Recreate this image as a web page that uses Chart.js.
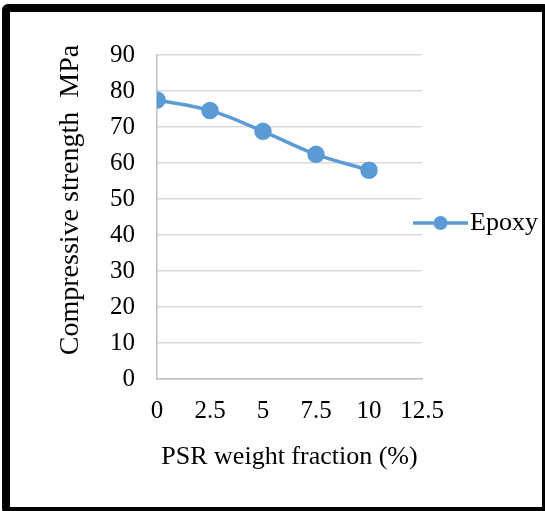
<!DOCTYPE html>
<html>
<head>
<meta charset="utf-8">
<script src="https://cdn.jsdelivr.net/npm/chart.js@4.4.0/dist/chart.umd.min.js"></script>
<style>
  html, body { margin: 0; padding: 0; background: #fff; overflow: hidden; }
  #wrap { position: relative; width: 545px; height: 511px; }
  #frame { position: absolute; left: 2px; top: 4px; width: 548px; height: 511px; box-sizing: border-box;
           border: 8px solid #000; border-radius: 6px; pointer-events: none; }
</style>
</head>
<body>
<div id="wrap">
  <canvas id="chart" width="545" height="511"></canvas>
  <div id="frame"></div>
</div>
<script>
var fractions = [0, 2.5, 5, 7.5, 10];
var epoxyStrength = [77.5, 74.6, 68.8, 62.4, 58.0];
var seriesName = "Epoxy";
var xTitle = "PSR weight fraction (%)";
var yTitle = "Compressive strength  MPa";

var blue = "#5B9BD5";
var serif = "'Liberation Serif', 'Times New Roman', serif";

// legend and y title drawn by hand so they sit where the original has them
var sideText = {
  id: 'sideText',
  afterDraw: function(chart) {
    var ctx = chart.ctx;
    var ds = chart.data.datasets[0];
    var y = 223, x0 = 413, x1 = 468;
    ctx.save();
    ctx.strokeStyle = ds.borderColor;
    ctx.lineWidth = ds.borderWidth;
    ctx.beginPath(); ctx.moveTo(x0, y); ctx.lineTo(x1, y); ctx.stroke();
    ctx.fillStyle = ds.pointBackgroundColor;
    ctx.beginPath(); ctx.arc((x0 + x1) / 2, y, ds.pointRadius, 0, Math.PI * 2); ctx.fill();
    ctx.fillStyle = "#000";
    ctx.font = "26px " + serif;
    ctx.textBaseline = "middle";
    ctx.fillText(ds.label, 470, y);

    ctx.translate(71, 200);
    ctx.rotate(-Math.PI / 2);
    ctx.font = "28px " + serif;
    ctx.textAlign = "center";
    ctx.fillText(yTitle, 0, 0);
    ctx.restore();
  }
};

var ctx = document.getElementById("chart");
var chart = new Chart(ctx, {
  type: 'line',
  data: {
    datasets: [{
      label: seriesName,
      data: fractions.map(function(f, i) { return { x: f, y: epoxyStrength[i] }; }),
      borderColor: blue,
      backgroundColor: blue,
      pointBackgroundColor: blue,
      pointBorderColor: blue,
      borderWidth: 3.5,
      pointRadius: 7,
      tension: 0.35,
      fill: false
    }]
  },
  options: {
    responsive: false,
    animation: false,
    layout: { padding: { left: 88, top: 55, right: 123, bottom: 31 } },
    plugins: { legend: { display: false }, tooltip: { enabled: false } },
    scales: {
      x: {
        type: 'linear',
        min: 0, max: 12.5,
        ticks: { stepSize: 2.5, color: "#000", padding: 20, font: { family: serif, size: 25, lineHeight: 1 } },
        grid: { display: false, drawTicks: false },
        border: { color: "#bfbfbf", width: 1.5 },
        title: { display: true, text: xTitle, color: "#000", padding: { top: 0, bottom: 10 }, font: { family: serif, size: 26, lineHeight: 1 } }
      },
      y: {
        min: 0, max: 90,
        ticks: { stepSize: 10, color: "#000", padding: 22, font: { family: serif, size: 25 } },
        grid: { color: "#d9d9d9", lineWidth: 1.5, drawTicks: false },
        border: { color: "#bfbfbf", width: 1.5 }
      }
    }
  },
  plugins: [sideText]
});
</script>
</body>
</html>
